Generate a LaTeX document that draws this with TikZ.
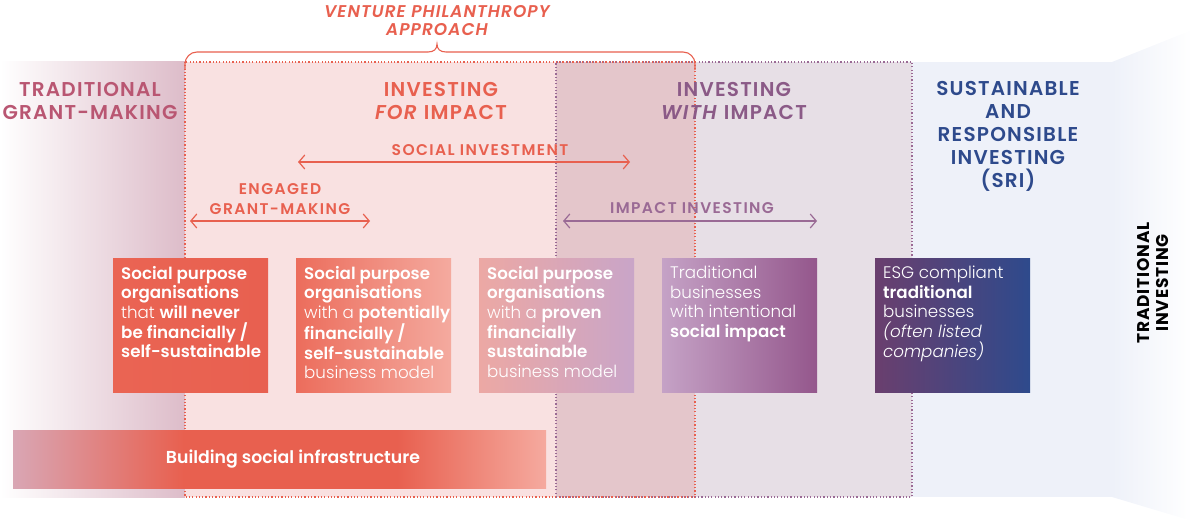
\documentclass[tikz,border=0pt]{standalone}
\usepackage{fontspec}
\setmainfont{Poppins}[UprightFont=* Light, BoldFont=* SemiBold, ItalicFont=* Light Italic, BoldItalicFont=* SemiBold Italic]
\newfontfamily\heavy{Poppins}[UprightFont=* Bold, LetterSpace=5]
\usetikzlibrary{arrows.meta}
\definecolor{coral}{HTML}{E8604F}
\definecolor{mauve}{HTML}{B95672}
\definecolor{purp}{HTML}{8B5A87}
\definecolor{purparrow}{HTML}{9A6A95}
\definecolor{navy}{HTML}{2E4A8C}
\definecolor{vpfill}{HTML}{F9E1E1}
\definecolor{ovfill}{HTML}{E4C6CB}
\definecolor{wifill}{HTML}{E7DFE6}
\definecolor{srifill}{HTML}{EEF1F9}
\definecolor{leftband}{HTML}{DDBCC9}
\definecolor{barA}{HTML}{D9A6B4}
\definecolor{barB}{HTML}{F5AA9F}
\definecolor{bAl}{HTML}{EA6453}\definecolor{bAr}{HTML}{E86050}
\definecolor{bBl}{HTML}{EC6D5C}\definecolor{bBr}{HTML}{F4AA9F}
\definecolor{bCl}{HTML}{ECA8A4}\definecolor{bCr}{HTML}{C9A5C8}
\definecolor{bDl}{HTML}{C5A2C6}\definecolor{bDr}{HTML}{94578C}
\definecolor{bEl}{HTML}{6A3F6E}\definecolor{bEr}{HTML}{2E4A8C}
\pgfdeclarehorizontalshading{bsi}{100bp}{color(0bp)=(barA); color(25bp)=(barA); color(41bp)=(coral); color(61bp)=(coral); color(75bp)=(barB); color(100bp)=(barB)}
\tikzset{
  header/.style={font=\bfseries\fontsize{20}{23}\selectfont\addfontfeatures{LetterSpace=6}, align=center},
  sublabel/.style={font=\bfseries\fontsize{15.5}{20}\selectfont\addfontfeatures{LetterSpace=9}, align=center},
  box/.style={anchor=north west, minimum width=155pt, minimum height=134pt, inner sep=0pt, draw=none},
  boxtext/.style={anchor=north west, inner sep=0pt, align=left, text=white, font=\fontsize{16.7}{19.6}\selectfont},
  dotborder/.style={line width=1.3pt, dash pattern=on 1.2pt off 2.1pt},
  dblarrow/.style={line width=1.2pt, {Straight Barb[length=6pt,width=14pt]}-{Straight Barb[length=6pt,width=14pt]}},
}
\begin{document}
\begin{tikzpicture}[x=1pt,y=-1pt]
\useasboundingbox (0,0) rectangle (1192,521);
% background regions
\fill[srifill] (912,62) rectangle (1112,497);
\shade[left color=srifill, right color=white] (1112,62) -- (1192,30) -- (1192,521) -- (1112,497) -- cycle;
\shade[left color=white, right color=leftband] (0,62) rectangle (185,497);
\fill[vpfill] (185,62) rectangle (556,497);
\fill[wifill] (695,62) rectangle (912,497);
\fill[ovfill] (556,62) rectangle (695,497);
% dotted borders
\draw[dotborder, purparrow] (556,497) -- (556,62) -- (912,62) -- (912,497) -- cycle;
\draw[dotborder, coral] (185,62) rectangle (695,497);
% brace
\draw[coral, line width=1.1pt, rounded corners=12pt] (185,70) |- (428,52);
\draw[coral, line width=1.1pt] (428,52) .. controls (434,52) and (437,49) .. (437,44) .. controls (437,49) and (440,52) .. (446,52);
\draw[coral, line width=1.1pt, rounded corners=12pt] (446,52) -| (695,70);
\node[coral, font=\bfseries\itshape\fontsize{17}{18}\selectfont\addfontfeatures{LetterSpace=6}, align=center] (vp) at (437,21) {VENTURE PHILANTHROPY\\APPROACH};
% headers
\node[header, mauve] (tgm) at (90,101) {TRADITIONAL\\GRANT-MAKING};
\node[header, coral] (ifi) at (441,101) {INVESTING\\\textit{FOR} IMPACT};
\node[header, purp] (iwi) at (734,101) {INVESTING\\\textit{WITH} IMPACT};
\node[header, navy] (sri) at (1008,136) {SUSTAINABLE\\AND\\RESPONSIBLE\\INVESTING\\(SRI)};
\node[font=\heavy\fontsize{17}{19.5}\selectfont, align=center, rotate=90] (ti) at (1153,283) {TRADITIONAL\\INVESTING};
% sub labels and arrows
\node[sublabel, coral] (si) at (480,150) {SOCIAL INVESTMENT};
\coordinate (siL) at (298,162); \coordinate (siR) at (630,162);
\draw[dblarrow, coral] (siL) -- (siR);
\node[sublabel, coral] (egm) at (280,199) {ENGAGED\\GRANT-MAKING};
\coordinate (egL) at (190,221); \coordinate (egR) at (370,221);
\draw[dblarrow, coral] (egL) -- (egR);
\node[sublabel, purparrow] (ii) at (692,208) {IMPACT INVESTING};
\coordinate (iiL) at (563,221); \coordinate (iiR) at (817,221);
\draw[dblarrow, purparrow] (iiL) -- (iiR);
% boxes
\node[box, left color=bAl, right color=bAr] (b1) at (113,258) {};
\node[boxtext] at ([xshift=8pt,yshift=-8pt]b1.north west) {\textbf{Social purpose}\\\textbf{organisations}\\that \textbf{will never}\\\textbf{be financially /}\\\textbf{self-sustainable}};
\node[box, left color=bBl, right color=bBr] (b2) at (296,258) {};
\node[boxtext] at ([xshift=8pt,yshift=-8pt]b2.north west) {\textbf{Social purpose}\\\textbf{organisations}\\with a \textbf{potentially}\\\textbf{financially /}\\\textbf{self-sustainable}\\business model};
\node[box, left color=bCl, right color=bCr] (b3) at (479,258) {};
\node[boxtext] at ([xshift=8pt,yshift=-8pt]b3.north west) {\textbf{Social purpose}\\\textbf{organisations}\\with a \textbf{proven}\\\textbf{financially}\\\textbf{sustainable}\\business model};
\node[box, left color=bDl, right color=bDr] (b4) at (662,258) {};
\node[boxtext] at ([xshift=8pt,yshift=-8pt]b4.north west) {Traditional\\businesses\\with intentional\\\textbf{social impact}};
\node[box, left color=bEl, right color=bEr] (b5) at (875,258) {};
\node[boxtext] at ([xshift=8pt,yshift=-8pt]b5.north west) {ESG compliant\\\textbf{traditional}\\businesses\\\textit{(often listed}\\\textit{companies)}};
% building bar
\node[anchor=north west, minimum width=533pt, minimum height=58pt, inner sep=0pt, shading=bsi] (bar) at (13,430) {};
\node[text=white, font=\bfseries\fontsize{17.3}{19}\selectfont] (bart) at (293,459) {Building social infrastructure};
\end{tikzpicture}
\end{document}
